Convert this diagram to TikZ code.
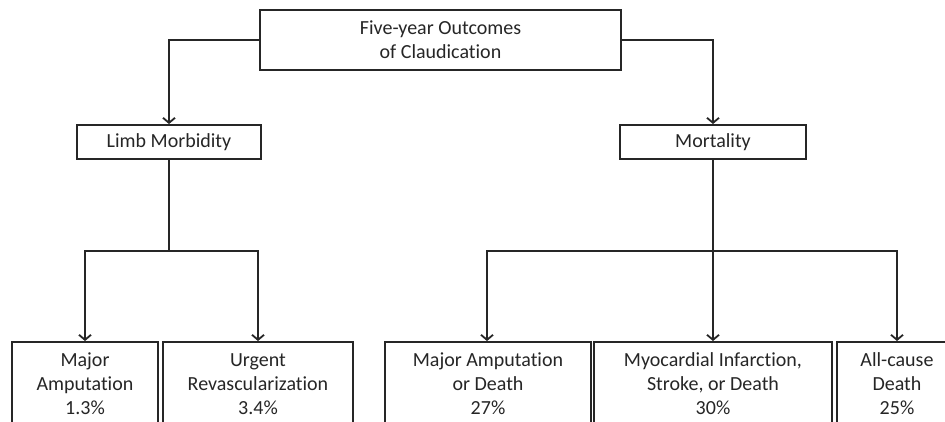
\documentclass[tikz,border=0pt]{standalone}
\usepackage{fontspec}
\setmainfont{Carlito}[Ligatures=NoCommon]
\usetikzlibrary{arrows.meta}
\newcommand{\nlti}{t\kern0pt i}
\begin{document}
\begin{tikzpicture}[x=1pt,y=-1pt,
  box/.style={draw=black!85,line width=2pt,rectangle,align=center,inner sep=0pt,
    font=\fontsize{20}{24}\selectfont,text=black!85},
  conn/.style={draw=black!85,line width=2pt},
  arr/.style={conn,-{Straight Barb[length=5pt,width=12pt,line width=1.8pt]}}]
\clip (0,0) rectangle (945,421);
\fill[white] (0,0) rectangle (945,421);
\node[box,minimum width=361pt,minimum height=60pt] (top) at (440.5,40) {Five-year Outcomes\\of Claudica\nlti on};
\node[box,minimum width=184pt,minimum height=34pt] (limb) at (169,142) {Limb Morbidity};
\node[box,minimum width=186pt,minimum height=34pt] (mort) at (713,142) {Mortality};
\node[box,minimum width=146pt,minimum height=84pt] (b1) at (85,384) {Major\\Amputa\nlti on\\1.3\%};
\node[box,minimum width=190pt,minimum height=84pt] (b2) at (258,384) {Urgent\\Revasculariza\nlti on\\3.4\%};
\node[box,minimum width=206pt,minimum height=84pt] (b3) at (488,384) {Major Amputa\nlti on\\or Death\\27\%};
\node[box,minimum width=238pt,minimum height=84pt] (b4) at (713,384) {Myocardial Infarc\nlti on,\\Stroke, or Death\\30\%};
\node[box,minimum width=120pt,minimum height=84pt] (b5) at (897,384) {All-cause\\Death\\25\%};
\coordinate (lj) at (169,251);
\coordinate (mj) at (713,251);
\draw[arr] (top.west) -| (limb.north);
\draw[arr] (top.east) -| (mort.north);
\draw[conn] (limb.south) -- (lj);
\draw[conn] (mort.south) -- (mj);
\draw[arr] (lj) -| (b1.north);
\draw[arr] (lj) -| (b2.north);
\draw[arr] (mj) -| ([xshift=-1pt]b3.north);
\draw[arr] (mj) -- (b4.north);
\draw[arr] (mj) -| (b5.north);
\end{tikzpicture}
\end{document}
